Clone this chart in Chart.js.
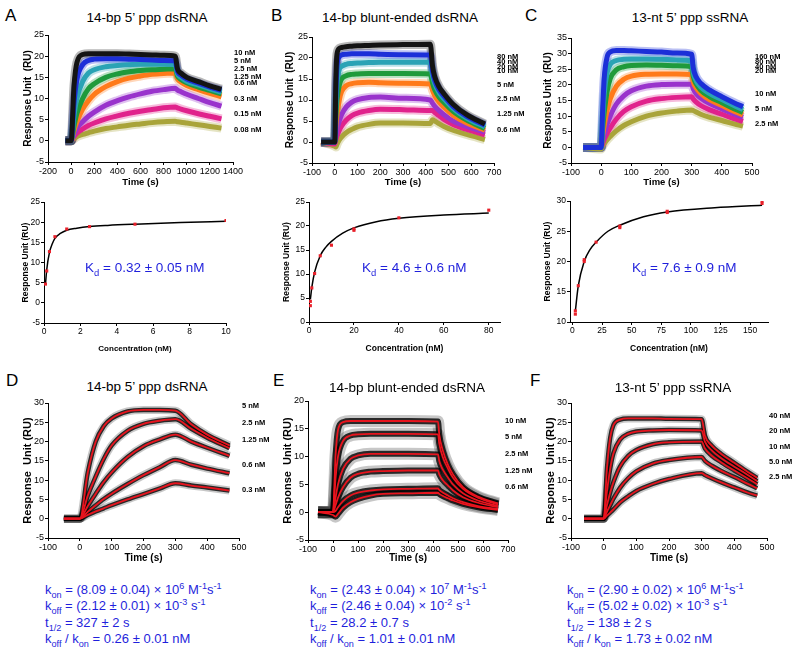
<!DOCTYPE html>
<html>
<head>
<meta charset="utf-8">
<script src="https://cdn.jsdelivr.net/npm/chart.js@4.4.1/dist/chart.umd.min.js"></script>
<style>
body { margin: 0; width: 800px; height: 653px; background: #fff; position: relative; overflow: hidden; font-family: 'Liberation Sans', Arial, sans-serif; }
canvas { position: absolute; }
.t { position: absolute; white-space: nowrap; line-height: 1; color: #000; }
.letter { font-size: 17px; transform: translateY(-50%); }
.title { font-size: 13.5px; transform: translate(-50%, -50%); }
.conc { font-size: 7.5px; font-weight: bold; transform: translateY(-50%); }
.kd { font-size: 13.5px; color: #1f1fdc; transform: translateY(-50%); }
.kin { font-size: 13px; color: #1f1fdc; line-height: 16.3px; }
sub, sup { font-size: 70%; line-height: 0; }
</style>
</head>
<body>
<script>
// ---------- A: 14-bp 5' ppp dsRNA sensorgrams ----------
const aTime  = [-50, 0, 25, 50, 100, 150, 200, 300, 400, 500, 600, 700, 800, 900, 920, 950, 1000, 1100, 1200, 1300];
const a10    = [0, 0, 13, 18.5, 20.4, 20.6, 20.6, 20.6, 20.6, 20.5, 20.4, 20.3, 20.2, 20.0, 17.0, 16.0, 15.0, 14.0, 13.0, 12.2];
const a5     = [0, 0, 9, 14.5, 18, 19, 19.3, 19.4, 19.4, 19.3, 19.2, 19.1, 19.0, 18.9, 16.4, 15.5, 14.6, 13.6, 12.7, 11.9];
const a2_5   = [0, 0, 6, 10, 14, 16, 16.8, 17.5, 17.8, 18, 18.1, 18.1, 18.1, 18.0, 15.8, 15.0, 14.1, 13.2, 12.3, 11.5];
const a1_25  = [0, 0, 3.5, 6.5, 10, 12.3, 13.5, 15, 15.8, 16.3, 16.6, 16.8, 16.9, 17.0, 15.3, 14.5, 13.7, 12.7, 11.9, 11.1];
const a0_6   = [0, 0, 2.5, 4.5, 7.5, 9.5, 11, 12.8, 14.0, 14.8, 15.3, 15.7, 15.9, 16.0, 14.7, 13.9, 13.1, 12.1, 11.2, 10.4];
const a0_3   = [0, 0, 1.5, 3, 4.5, 5.8, 6.8, 8.4, 9.5, 10.4, 11.1, 11.7, 12.1, 12.4, 12.0, 11.6, 11.0, 10.0, 9.0, 8.2];
const a0_15  = [0, 0, 1, 1.8, 2.8, 3.6, 4.2, 5.2, 5.9, 6.5, 7.0, 7.4, 7.8, 8.0, 7.8, 7.5, 7.1, 6.4, 5.8, 5.2];
const a0_08  = [0, 0, 0.5, 1, 1.5, 1.9, 2.3, 2.9, 3.3, 3.7, 4.0, 4.3, 4.5, 4.6, 4.5, 4.4, 4.2, 3.8, 3.4, 3.0];
const aLabels = ['10 nM', '5 nM', '2.5 nM', '1.25 nM', '0.6 nM', '0.3 nM', '0.15 nM', '0.08 nM'];
const aLabelY = [53, 61, 69, 77, 83, 99, 114, 130];

// ---------- B: 14-bp blunt-ended dsRNA sensorgrams ----------
const bTime  = [-60, 0, 5, 10, 20, 30, 50, 75, 100, 150, 200, 300, 420, 430, 440, 460, 480, 520, 580, 660];
const b80    = [0, 0, 15, 21, 22.3, 22.5, 22.7, 22.8, 22.9, 23.0, 23.1, 23.2, 23.3, 18.0, 15.5, 13.0, 11.5, 9.0, 6.5, 4.3];
const b40    = [0, 0, 12, 18, 20.3, 20.7, 20.9, 21.0, 21.0, 21.0, 20.9, 20.8, 20.7, 16.8, 14.6, 12.3, 10.9, 8.5, 6.1, 4.0];
const b20    = [0, 0, 9, 14, 17.3, 18.0, 18.5, 18.7, 18.8, 18.9, 19.0, 19.0, 19.0, 15.8, 13.8, 11.6, 10.3, 8.0, 5.7, 3.6];
const b10    = [0, 0, 6, 10, 13.5, 15.0, 15.8, 16.1, 16.2, 16.3, 16.3, 16.3, 16.2, 14.0, 12.4, 10.6, 9.4, 7.3, 5.2, 3.2];
const b5     = [0, 0, 4, 6.5, 10, 12, 13.4, 13.9, 14.1, 14.2, 14.1, 14.0, 13.8, 12.3, 11.0, 9.4, 8.3, 6.4, 4.5, 2.8];
const b2_5   = [0, 0, 1.5, 3, 5, 6.5, 8.3, 9.5, 10.1, 10.6, 10.7, 10.4, 10.0, 9.2, 8.5, 7.4, 6.5, 5.0, 3.7, 2.3];
const b1_25  = [0, -0.5, 0.5, 1.5, 2.8, 3.8, 5.2, 6.3, 6.9, 7.5, 7.8, 7.7, 7.5, 7.5, 7.0, 6.2, 5.4, 4.2, 3.0, 1.7];
const b0_6   = [0, -1, -1.2, -0.5, 0.5, 1.2, 2.2, 3.0, 3.6, 4.2, 4.5, 4.5, 4.4, 5.3, 5.0, 4.3, 3.7, 2.8, 1.8, 0.6];
const bLabels = ['80 nM', '40 nM', '20 nM', '10 nM', '5 nM', '2.5 nM', '1.25 nM', '0.6 nM'];
const bLabelY = [57, 62, 67, 71, 85, 99, 114, 130];

// ---------- C: 13-nt 5' ppp ssRNA sensorgrams ----------
const cTime  = [-60, 0, 5, 10, 20, 30, 50, 75, 100, 150, 200, 250, 300, 305, 315, 330, 360, 400, 440, 470];
const c160   = [0, 0, 12, 22, 29, 30.5, 31.0, 31.0, 30.9, 30.7, 30.5, 30.2, 29.8, 25.5, 22.5, 20.5, 18.3, 16.2, 14.3, 13.0];
const c80    = [0, 0, 9, 17, 24, 26.5, 27.8, 28.2, 28.3, 28.3, 28.2, 28.0, 27.7, 24.0, 21.3, 19.3, 17.2, 15.3, 13.4, 12.1];
const c40    = [0, 0, 6, 11, 18, 22, 24.8, 25.8, 26.2, 26.4, 26.3, 26.1, 25.8, 22.8, 20.3, 18.3, 16.2, 14.3, 12.4, 11.2];
const c20    = [0, 0, 4, 7, 12, 15.5, 19.5, 21.8, 22.8, 23.4, 23.5, 23.5, 23.3, 21.0, 19.0, 17.3, 15.2, 13.4, 11.6, 10.4];
const c10    = [0, 0, 2, 4, 7.5, 10, 13.8, 16.5, 18.1, 19.6, 20.1, 20.2, 20.2, 18.8, 17.2, 15.8, 14.0, 12.3, 10.7, 9.6];
const c5     = [0, 0, 1.2, 2.5, 4.5, 6.2, 9, 11.5, 13, 14.8, 15.6, 16.0, 16.2, 15.5, 14.5, 13.4, 12.0, 10.6, 9.2, 8.3];
const c2_5   = [0, -0.5, 0.5, 1.2, 2.5, 3.5, 5.3, 7, 8.2, 10, 11.0, 11.6, 12.0, 11.8, 11.3, 10.6, 9.6, 8.6, 7.5, 6.8];
const cLabels = ['160 nM', '80 nM', '40 nM', '20 nM', '10 nM', '5 nM', '2.5 nM'];
const cLabelY = [57, 62, 67, 71, 94, 109, 124];

// ---------- binding isotherms (second row) ----------
const a2Conc = [0.08, 0.15, 0.3, 0.6, 1.25, 2.5, 5, 10];
const a2Resp = [4.65, 7.9, 12.7, 16.4, 18.3, 18.9, 19.5, 20.4];
const a2FitX = [0.08, 0.15, 0.3, 0.45, 0.6, 0.9, 1.25, 1.8, 2.5, 3.5, 5, 7.5, 10];
const a2FitY = [4.6, 8.2, 12.5, 14.6, 16.0, 17.2, 18.0, 18.5, 18.9, 19.2, 19.5, 19.9, 20.2];

const b2Conc = [0.6, 0.6, 1.25, 2.5, 5, 10, 20, 20, 40, 80];
const b2Resp = [4.3, 3.4, 7.1, 10.1, 13.8, 16.0, 19.4, 19.1, 21.7, 23.3];
const b2FitX = [0.6, 1.25, 2.5, 5, 7.5, 10, 15, 20, 30, 40, 60, 80];
const b2FitY = [4.7, 7.2, 10.4, 13.8, 15.6, 16.8, 18.5, 19.6, 20.9, 21.6, 22.3, 22.7];

const c2Conc = [2.5, 2.5, 5, 10, 10, 20, 40, 40, 80, 80, 160, 160];
const c2Resp = [11.85, 11.3, 16.0, 20.0, 20.3, 23.2, 25.85, 25.6, 28.3, 28.1, 30.0, 29.6];
const c2FitX = [2.5, 5, 10, 15, 20, 30, 40, 60, 80, 120, 160];
const c2FitY = [11.8, 16.0, 20.0, 22.0, 23.2, 25.0, 26.0, 27.4, 28.2, 28.9, 29.3];

// ---------- D: 14-bp 5' ppp dsRNA, fitted ----------
const dTime = [-50, 0, 25, 50, 75, 100, 150, 200, 250, 300, 350, 400, 470];
const d5    = [0, 0, 12, 20, 24, 26, 27.8, 28.2, 28.2, 28.0, 24.5, 21.8, 19.0];
const d2_5  = [0, 0, 6, 11, 15.5, 19, 22.8, 24.6, 25.4, 25.8, 23.3, 21.0, 18.3];
const d1_25 = [0, 0, 3.3, 6.5, 9.5, 12, 16, 18.8, 20.5, 21.8, 20.0, 18.4, 16.3];
const d0_6  = [0, 0, 1.8, 3.5, 5.1, 6.5, 9, 11.3, 13.3, 15.2, 14.0, 13.0, 11.8];
const d0_3  = [0, 0, 1, 1.9, 2.7, 3.5, 5, 6.4, 7.8, 9.2, 8.6, 8.1, 7.3];
const dLabels = ['5 nM', '2.5 nM', '1.25 nM', '0.6 nM', '0.3 nM'];
const dLabelY = [406, 423, 440, 465, 490];

// ---------- E: 14-bp blunt-ended dsRNA, fitted ----------
const eTime  = [-60, 0, 10, 20, 40, 70, 100, 150, 200, 300, 420, 425, 440, 460, 480, 520, 580, 660];
const e10    = [0, 0, 10, 14.8, 16.2, 16.4, 16.4, 16.4, 16.4, 16.4, 16.3, 14.0, 11.0, 8.5, 6.8, 4.5, 2.8, 1.6];
const e5     = [0, 0, 6, 10, 12.8, 13.8, 14.0, 14.1, 14.1, 14.1, 14.0, 12.3, 9.8, 7.8, 6.2, 4.2, 2.6, 1.4];
const e2_5   = [0, 0, 2.5, 5, 7.8, 9.6, 10.2, 10.5, 10.5, 10.5, 10.4, 9.2, 7.6, 6.2, 5.0, 3.4, 2.1, 1.1];
const e1_25  = [0, 0, 1.2, 2.6, 4.5, 6.2, 6.9, 7.3, 7.4, 7.5, 7.5, 6.8, 5.7, 4.8, 3.9, 2.7, 1.7, 0.9];
const e0_6a  = [0, 0, 0.2, 0.9, 2.0, 3.0, 3.5, 3.9, 4.1, 4.2, 4.3, 4.0, 3.5, 3.0, 2.5, 1.8, 1.1, 0.6];
const e0_6b  = [0, -0.5, -0.8, -0.3, 0.8, 1.8, 2.4, 3.0, 3.3, 3.4, 3.5, 3.3, 2.9, 2.5, 2.1, 1.5, 0.9, 0.4];
const eLabels = ['10 nM', '5 nM', '2.5 nM', '1.25 nM', '0.6 nM'];
const eLabelY = [421, 437, 454, 471, 487];

// ---------- F: 13-nt 5' ppp ssRNA, fitted ----------
const fTime = [-60, 0, 10, 20, 30, 50, 75, 100, 150, 200, 300, 310, 330, 360, 400, 440, 470];
const f40   = [0, 0, 13, 21, 24.3, 25.7, 26.0, 26.0, 26.0, 25.9, 25.8, 21.5, 19.0, 16.8, 14.5, 12.2, 10.6];
const f20   = [0, 0, 7, 13, 17, 20.5, 22.0, 22.6, 22.9, 23.0, 22.9, 20.0, 17.8, 15.7, 13.5, 11.4, 9.7];
const f10   = [0, 0, 3.5, 6.8, 9.5, 13.5, 16.3, 17.8, 19.3, 19.8, 20.0, 18.2, 16.4, 14.6, 12.5, 10.5, 8.9];
const f5    = [0, 0, 1.8, 3.5, 5.2, 8, 10.5, 12.3, 14.3, 15.2, 16.0, 15.0, 13.8, 12.4, 10.8, 9.1, 7.9];
const f2_5  = [0, 0, 0.8, 1.6, 2.4, 4.2, 5.8, 7.2, 9.0, 10.3, 11.8, 11.3, 10.5, 9.4, 8.1, 6.8, 6.0];
const fLabels = ['40 nM', '20 nM', '10 nM', '5.0 nM', '2.5 nM'];
const fLabelY = [416, 431, 447, 462, 477];

// axis tick values
const ticksY25 = [-5, 0, 5, 10, 15, 20, 25];
const ticksY35 = [-5, 0, 5, 10, 15, 20, 25, 30, 35];
const ticksY30 = [-5, 0, 5, 10, 15, 20, 25, 30];
const ticksY20 = [-5, 0, 5, 10, 15, 20];
const ticksXA  = [-200, 0, 200, 400, 600, 800, 1000, 1200, 1400];
const ticksX700 = [-100, 0, 100, 200, 300, 400, 500, 600, 700];
const ticksX500 = [-100, 0, 100, 200, 300, 400, 500];

const FONT = "'Liberation Sans', Arial, sans-serif";
const BLACK = '#141414', BLUE = '#1c2fd8', TEAL = '#2aa3b5', GREEN = '#1f9a3c',
      ORANGE = '#ff7a1a', PURPLE = '#9933cc', MAGENTA = '#e0228c', OLIVE = '#a9a43a';

function rgba(hex, a) {
    const n = parseInt(hex.slice(1), 16);
    return `rgba(${n >> 16},${(n >> 8) & 255},${n & 255},${a})`;
}

function pts(xs, ys) {
    return xs.map((x, i) => ({ x: x, y: ys[i] }));
}

function axis(min, max, ticks, title, fit, tickSize, titleSize) {
    return {
        type: 'linear',
        min: min,
        max: max,
        afterBuildTicks: s => { s.ticks = ticks.map(v => ({ value: v })); },
        afterFit: s => { if (s.isHorizontal()) s.height = fit; else s.width = fit; },
        grid: { drawOnChartArea: false, drawTicks: true, tickLength: 3, color: '#000' },
        border: { color: '#000', width: 1 },
        ticks: {
            color: '#000', padding: 1, maxRotation: 0, autoSkip: false,
            font: { family: FONT, size: tickSize },
            callback: v => String(v)
        },
        title: { display: true, text: title, color: '#000', padding: 0, font: { family: FONT, size: titleSize, weight: 'bold' } }
    };
}

// area = [left, top, right, bottom] of the plotting region on the page
function makeChart(area, yw, xh, xScale, yScale, datasets) {
    const padT = 8, padR = 14;
    const left = area[0] - yw, top = area[1] - padT;
    const canvas = document.createElement('canvas');
    canvas.width = area[2] + padR - left;
    canvas.height = area[3] + xh - top;
    canvas.style.left = left + 'px';
    canvas.style.top = top + 'px';
    document.body.appendChild(canvas);
    new Chart(canvas, {
        type: 'line',
        data: { datasets: datasets },
        options: {
            responsive: false,
            animation: false,
            devicePixelRatio: 1,
            layout: { padding: { left: 0, top: padT, right: padR, bottom: 0 } },
            plugins: { legend: { display: false }, tooltip: { enabled: false } },
            elements: { point: { radius: 0 }, line: { cubicInterpolationMode: 'monotone' } },
            scales: { x: xScale, y: yScale }
        }
    });
}

// coloured noisy sensorgram bands: first series drawn on top, faint fringes underneath all
function traceSets(time, series, colors) {
    const sets = [];
    series.forEach((ys, i) => {
        const data = pts(time, ys);
        sets.push({ data: data, borderColor: colors[i], borderWidth: 5, order: i });
        sets.push({ data: data, borderColor: rgba(colors[i], 0.3), borderWidth: 9, order: 100 + i });
    });
    return sets;
}

// black noisy data with red fitted curve
function fitSets(time, series, core, halo) {
    const sets = [];
    series.forEach(ys => {
        const data = pts(time, ys);
        sets.push({ data: data, borderColor: '#e8141e', borderWidth: 1.8, order: 0 });
        sets.push({ data: data, borderColor: 'rgba(0,0,0,0.8)', borderWidth: core, order: 1 });
        sets.push({ data: data, borderColor: 'rgba(0,0,0,0.22)', borderWidth: halo, order: 2 });
    });
    return sets;
}

function isoSets(conc, resp, fitX, fitY) {
    return [
        { data: pts(conc, resp), showLine: false, pointStyle: 'rect', pointRadius: 2.2,
          pointBackgroundColor: '#e8202a', pointBorderWidth: 0, order: 0 },
        { data: pts(fitX, fitY), borderColor: '#000', borderWidth: 1.5, order: 1 }
    ];
}

function text(cls, x, y, html) {
    const d = document.createElement('div');
    d.className = 't ' + cls;
    d.style.left = x + 'px';
    d.style.top = y + 'px';
    d.innerHTML = html;
    document.body.appendChild(d);
}

// ---- row 1 ----
const RU2 = 'Response Unit  (RU)';
makeChart([48, 35, 233, 162], 26, 26,
    axis(-200, 1400, ticksXA, 'Time (s)', 26, 9, 9.5),
    axis(-5, 25, ticksY25, RU2, 26, 9, 10),
    traceSets(aTime, [a10, a5, a2_5, a1_25, a0_6, a0_3, a0_15, a0_08],
        [BLACK, BLUE, TEAL, GREEN, ORANGE, PURPLE, MAGENTA, OLIVE]));
makeChart([312, 37, 494, 163], 28, 25,
    axis(-100, 700, ticksX700, 'Time (s)', 25, 9, 9.5),
    axis(-5, 25, ticksY25, RU2, 28, 9, 10),
    traceSets(bTime, [b80, b40, b20, b10, b5, b2_5, b1_25, b0_6],
        [BLACK, BLUE, TEAL, GREEN, ORANGE, PURPLE, MAGENTA, OLIVE]));
makeChart([571, 38, 752, 163], 29, 25,
    axis(-100, 500, ticksX500, 'Time (s)', 25, 9, 9.5),
    axis(-5, 35, ticksY35, RU2, 29, 9, 10),
    traceSets(cTime, [c160, c80, c40, c20, c10, c5, c2_5],
        [BLUE, TEAL, GREEN, ORANGE, PURPLE, MAGENTA, OLIVE]));

// ---- row 2 ----
makeChart([44, 202, 226, 323], 23, 31,
    axis(0, 10, [0, 2, 4, 6, 8, 10], 'Concentration (nM)', 31, 8.5, 8),
    axis(-5, 25, ticksY25, 'Response Unit (RU)', 23, 8.5, 8.5),
    isoSets(a2Conc, a2Resp, a2FitX, a2FitY));
makeChart([309, 202, 500, 322], 27, 32,
    axis(0, 85, [0, 20, 40, 60, 80], 'Concentration (nM)', 32, 8.5, 8.5),
    axis(0, 25, [0, 5, 10, 15, 20, 25], 'Response Unit (RU)', 27, 8.5, 8.5),
    isoSets(b2Conc, b2Resp, b2FitX, b2FitY));
makeChart([570, 201, 768, 322], 27, 32,
    axis(-2, 165, [0, 25, 50, 75, 100, 125, 150], 'Concentration (nM)', 32, 8.5, 8.5),
    axis(10, 30, [10, 15, 20, 25, 30], 'Response Unit (RU)', 27, 8.5, 8.5),
    isoSets(c2Conc, c2Resp, c2FitX, c2FitY));

// ---- row 3 ----
const RU3 = 'Response  Unit (RU)';
makeChart([48, 403, 239, 538], 27, 26,
    axis(-100, 500, ticksX500, 'Time (s)', 26, 9, 10),
    axis(-5, 30, ticksY30, RU3, 27, 9, 11),
    fitSets(dTime, [d5, d2_5, d1_25, d0_6, d0_3], 4.5, 8));
makeChart([308, 401, 508, 540], 27, 24,
    axis(-100, 700, ticksX700, 'Time (s)', 24, 9, 10),
    axis(-5, 20, ticksY20, RU3, 27, 9, 11),
    fitSets(eTime, [e10, e5, e2_5, e1_25, e0_6a, e0_6b], 6, 12));
makeChart([571, 403, 767, 538], 27, 26,
    axis(-100, 500, ticksX500, 'Time (s)', 26, 9, 10),
    axis(-5, 30, ticksY30, RU3, 27, 9, 11),
    fitSets(fTime, [f40, f20, f10, f5, f2_5], 4.5, 8));

// ---- text ----
text('letter', 5, 15, 'A');
text('letter', 271, 15, 'B');
text('letter', 525, 15, 'C');
text('letter', 6, 380, 'D');
text('letter', 273, 380, 'E');
text('letter', 530, 380, 'F');

text('title', 147, 18, '14-bp 5’ ppp dsRNA');
text('title', 400, 18, '14-bp blunt-ended dsRNA');
text('title', 690, 18, '13-nt 5’ ppp ssRNA');
text('title', 147, 387, '14-bp 5’ ppp dsRNA');
text('title', 407, 388, '14-bp blunt-ended dsRNA');
text('title', 673, 388, '13-nt 5’ ppp ssRNA');

aLabels.forEach((s, i) => text('conc', 234, aLabelY[i], s));
bLabels.forEach((s, i) => text('conc', 497, bLabelY[i], s));
cLabels.forEach((s, i) => text('conc', 755, cLabelY[i], s));
dLabels.forEach((s, i) => text('conc', 242, dLabelY[i], s));
eLabels.forEach((s, i) => text('conc', 505, eLabelY[i], s));
fLabels.forEach((s, i) => text('conc', 769, fLabelY[i], s));

text('kd', 85, 268, 'K<sub>d</sub> = 0.32 ± 0.05 nM');
text('kd', 362, 268, 'K<sub>d</sub> = 4.6 ± 0.6 nM');
text('kd', 632, 268, 'K<sub>d</sub> = 7.6 ± 0.9 nM');

text('kin', 45, 582,
    'k<sub>on</sub> = (8.09 ± 0.04) × 10<sup>6</sup> M<sup>-1</sup>s<sup>-1</sup><br>' +
    'k<sub>off</sub> = (2.12 ± 0.01) × 10<sup>-3</sup> s<sup>-1</sup><br>' +
    't<sub>1/2</sub> = 327 ± 2 s<br>' +
    'k<sub>off</sub> / k<sub>on</sub> = 0.26 ± 0.01 nM');
text('kin', 310, 582,
    'k<sub>on</sub> = (2.43 ± 0.04) × 10<sup>7</sup> M<sup>-1</sup>s<sup>-1</sup><br>' +
    'k<sub>off</sub> = (2.46 ± 0.04) × 10<sup>-2</sup> s<sup>-1</sup><br>' +
    't<sub>1/2</sub> = 28.2 ± 0.7 s<br>' +
    'k<sub>off</sub> / k<sub>on</sub> = 1.01 ± 0.01 nM');
text('kin', 567, 582,
    'k<sub>on</sub> = (2.90 ± 0.02) × 10<sup>6</sup> M<sup>-1</sup>s<sup>-1</sup><br>' +
    'k<sub>off</sub> = (5.02 ± 0.02) × 10<sup>-3</sup> s<sup>-1</sup><br>' +
    't<sub>1/2</sub> = 138 ± 2 s<br>' +
    'k<sub>off</sub> / k<sub>on</sub> = 1.73 ± 0.02 nM');
</script>
</body>
</html>
